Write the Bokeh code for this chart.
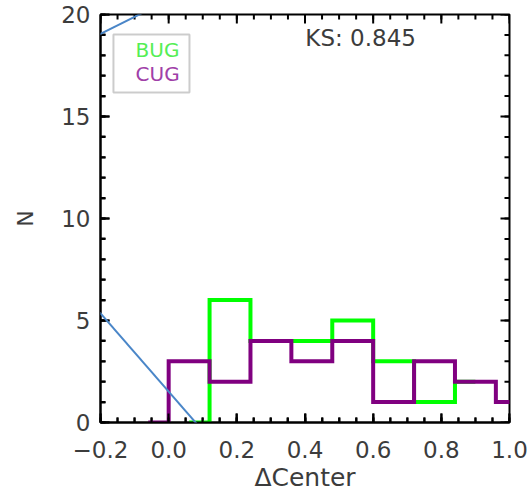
import numpy as np
from bokeh.plotting import figure
from bokeh.models import FixedTicker, BoxAnnotation, Label, PolyAnnotation, Range1d
from bokeh.embed import file_html
from bokeh.resources import INLINE

# ---- data ----
bin_centers_cug = [-0.06, 0.06, 0.18, 0.30, 0.42, 0.54, 0.66, 0.78, 0.90, 1.02]
counts_cug = [0, 3, 2, 4, 3, 4, 1, 3, 2, 1]
bin_centers_bug = [0.06, 0.18, 0.30, 0.42, 0.54, 0.66, 0.78, 0.90]
counts_bug = [0, 6, 4, 4, 5, 3, 1, 2]

x_ticks = [-0.2, 0.0, 0.2, 0.4, 0.6, 0.8, 1.0]
x_tick_labels = ["\u22120.2", "0.0", "0.2", "0.4", "0.6", "0.8", "1.0"]
x_minor = [round(v, 2) for v in np.arange(-0.2, 1.0001, 0.05)]
y_ticks = [0, 5, 10, 15, 20]
y_tick_labels = ["0", "5", "10", "15", "20"]
y_minor = list(range(0, 21))
legend_names = ["BUG", "CUG"]
ks_text = "KS: 0.845"

X0, X1, Y0, Y1 = -0.2, 1.0, 0, 20
FW, FH = 409, 408          # frame size in pixels
DX = (X1 - X0) / FW        # data units per pixel
DY = (Y1 - Y0) / FH

FONT = "DejaVu Sans"
TXT = "#3c3c3c"
GREEN = "#00ff00"
PURPLE = "#800080"

p = figure(frame_width=FW, frame_height=FH,
           x_range=Range1d(X0, X1), y_range=Range1d(Y0, Y1),
           output_backend="svg", toolbar_location=None,
           min_border_left=100, min_border_right=22,
           min_border_top=14, min_border_bottom=78,
           x_axis_label="\u0394Center", y_axis_label="N")
p.grid.visible = False
p.outline_line_color = "black"
p.outline_line_width = 2
p.background_fill_color = "white"
p.border_fill_color = "white"

xt = FixedTicker(ticks=x_ticks, minor_ticks=x_minor)
yt = FixedTicker(ticks=y_ticks, minor_ticks=y_minor)
for ax, tk, ticks, labels in ((p.xaxis[0], xt, x_ticks, x_tick_labels),
                              (p.yaxis[0], yt, y_ticks, y_tick_labels)):
    ax.ticker = tk
    ax.major_label_overrides = {t: l for t, l in zip(ticks, labels)}
    ax.axis_line_color = "black"
    ax.axis_line_width = 2
    ax.major_tick_in = 9
    ax.major_tick_out = 0
    ax.minor_tick_in = 5
    ax.minor_tick_out = 0
    ax.major_tick_line_color = "black"
    ax.minor_tick_line_color = "black"
    ax.major_tick_line_width = 2
    ax.minor_tick_line_width = 2
    ax.major_label_text_font = FONT
    ax.major_label_text_font_size = "23px"
    ax.major_label_text_color = TXT
    ax.axis_label_text_font = FONT
    ax.axis_label_text_font_style = "normal"
    ax.axis_label_text_color = TXT

p.xaxis[0].axis_label_text_font_size = "25px"
p.yaxis[0].axis_label_text_font_size = "22px"
p.xaxis[0].major_label_standoff = 18
p.xaxis[0].axis_label_standoff = 2
p.yaxis[0].major_label_standoff = 10
p.yaxis[0].axis_label_standoff = 20

# inward ticks on all four sides (mirrored on top and right, as in the original)
TICK = dict(line_color="black", line_width=2)
for xs, ln in ((x_ticks, 9), (x_minor, 5)):
    p.segment(x0=xs, y0=[Y0] * len(xs), x1=xs, y1=[Y0 + ln * DY] * len(xs), **TICK)
    p.segment(x0=xs, y0=[Y1] * len(xs), x1=xs, y1=[Y1 - ln * DY] * len(xs), **TICK)
for ys, ln in ((y_ticks, 9), (y_minor, 5)):
    p.segment(x0=[X0] * len(ys), y0=ys, x1=[X0 + ln * DX] * len(ys), y1=ys, **TICK)
    p.segment(x0=[X1] * len(ys), y0=ys, x1=[X1 - ln * DX] * len(ys), y1=ys, **TICK)

p.step(bin_centers_bug, counts_bug, mode="center", line_width=4, line_color=GREEN, line_join="miter")
p.step(bin_centers_cug, counts_cug, mode="center", line_width=4, line_color=PURPLE, line_join="miter")

p.add_layout(BoxAnnotation(left=-0.162, right=0.061, top=19.02, bottom=16.18,
                           fill_alpha=0, line_color="#555555", line_width=2))
p.add_layout(Label(x=-0.097, y=18.24, text=legend_names[0], text_font=FONT, text_font_size="20px",
                   text_color="#55ee55", text_baseline="middle"))
p.add_layout(Label(x=-0.097, y=17.06, text=legend_names[1], text_font=FONT, text_font_size="20px",
                   text_color="#a040a8", text_baseline="middle"))
p.add_layout(Label(x=0.401, y=18.87, text=ks_text, text_font=FONT, text_font_size="23px",
                   text_color=TXT, text_baseline="middle"))

# blue overlay strokes present on the reference image (canvas pixels, y down)
BLUE = "#4a86c8"
p.add_layout(PolyAnnotation(xs=[0, 167], ys=[83, 0], xs_units="canvas", ys_units="canvas",
                            fill_alpha=0, line_color=BLUE, line_alpha=1.0, line_width=2))
p.add_layout(PolyAnnotation(xs=[0, 243], ys=[198, 477], xs_units="canvas", ys_units="canvas",
                            fill_alpha=0, line_color=BLUE, line_alpha=1.0, line_width=2))

open("out.html", "w").write(file_html(p, INLINE))
